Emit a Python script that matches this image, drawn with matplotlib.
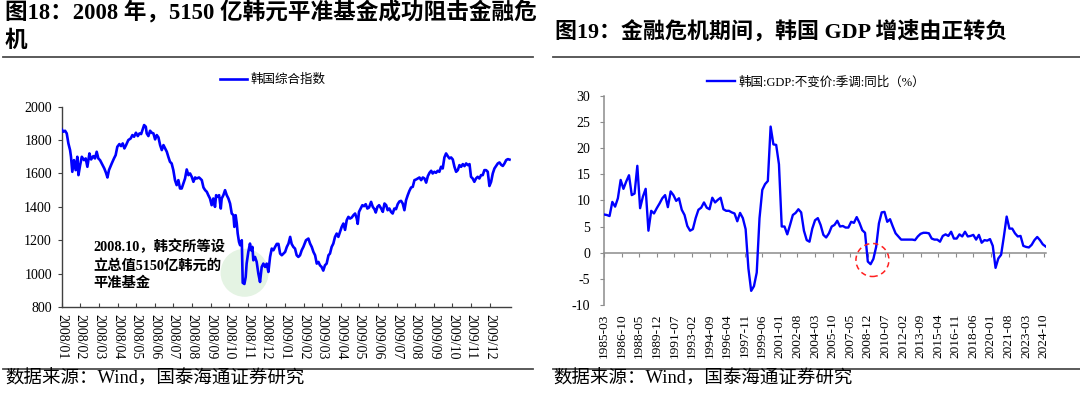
import numpy as np
import matplotlib
matplotlib.use('Agg')
import matplotlib.pyplot as plt
from matplotlib.patches import Circle
from matplotlib.transforms import ScaledTranslation
from matplotlib.lines import Line2D

FAM = ['Liberation Serif', 'Noto Sans CJK SC']
plt.rcParams['font.family'] = FAM
plt.rcParams['axes.unicode_minus'] = False

# ---------------- data ----------------
left_title_lines = ["图18：2008 年，5150 亿韩元平准基金成功阻击金融危", "机"]
right_title = "图19：金融危机期间，韩国 GDP 增速由正转负"
source_text = "数据来源：Wind，国泰海通证券研究"
kospi_name = "韩国综合指数"
gdp_name = "韩国:GDP:不变价:季调:同比（%）"
annotation = "2008.10，韩交所等设\n立总值5150亿韩元的\n平准基金"

# KOSPI: position in months since 2008/01, index level
kospi_month = [
    0.00, 0.09, 0.18, 0.27, 0.36, 0.45, 0.50, 0.57, 0.66, 0.75,
    0.84, 0.90, 0.99, 1.08, 1.20, 1.29, 1.38, 1.49, 1.58, 1.70,
    1.79, 1.88, 1.97, 2.06, 2.15, 2.29, 2.38, 2.46, 2.54, 2.69,
    2.81, 2.90, 2.99, 3.10, 3.19, 3.28, 3.37, 3.46, 3.58, 3.71,
    3.80, 3.89, 3.99, 4.09, 4.18, 4.27, 4.34, 4.43, 4.52, 4.57,
    4.66, 4.75, 4.84, 4.93, 5.02, 5.11, 5.20, 5.29, 5.38, 5.47,
    5.56, 5.65, 5.73, 5.82, 5.91, 6.00, 6.09, 6.18, 6.27, 6.36,
    6.45, 6.54, 6.63, 6.72, 6.81, 6.90, 6.99, 7.08, 7.17, 7.26,
    7.38,
    7.44, 7.53, 7.62, 7.71, 7.80, 7.88, 7.97, 8.06, 8.15, 8.24,
    8.30, 8.37, 8.46, 8.55, 8.60, 8.69, 8.78, 8.87, 8.96, 9.05,
    9.14, 9.23, 9.28, 9.35, 9.41, 9.46, 9.53, 9.59, 9.68, 9.73,
    9.82, 9.89, 9.94, 10.03, 10.12, 10.18, 10.25, 10.30, 10.39, 10.48,
    10.57, 10.66, 10.75, 10.84, 10.93, 11.02, 11.11, 11.20, 11.29, 11.38,
    11.47, 11.56, 11.65, 11.74, 11.83, 11.92, 12.01, 12.10, 12.19, 12.28,
    12.36, 12.45, 12.54, 12.63, 12.72, 12.81, 12.90, 12.99, 13.13, 13.26,
    13.35, 13.44, 13.53, 13.62, 13.71, 13.80, 13.88, 13.97, 14.06, 14.15,
    14.24, 14.34, 14.42, 14.51, 14.60, 14.69, 14.78, 14.87, 14.96, 15.05,
    15.14,
    15.23, 15.32, 15.41, 15.50, 15.59, 15.68, 15.77, 15.86, 15.91, 15.98,
    16.07, 16.16, 16.25, 16.34, 16.43, 16.52, 16.63, 16.72, 16.81, 16.88,
    16.97, 17.06, 17.17, 17.26, 17.35, 17.44, 17.52, 17.61, 17.70, 17.79,
    17.88, 17.97, 18.06, 18.15, 18.24, 18.33, 18.42, 18.51, 18.60, 18.69,
    18.78, 18.87, 18.96, 19.05, 19.14, 19.23, 19.32, 19.41, 19.50, 19.59,
    19.68, 19.77, 19.86, 19.94, 20.03, 20.12, 20.21, 20.30, 20.39, 20.48,
    20.57, 20.66, 20.75, 20.84, 20.93, 21.02, 21.11, 21.20, 21.29, 21.38,
    21.47, 21.56, 21.65, 21.74, 21.83, 21.92, 22.00, 22.09, 22.18, 22.27,
    22.36, 22.45, 22.54, 22.63, 22.72, 22.81, 22.90, 22.99, 23.08, 23.17,
    23.26, 23.35, 23.44, 23.53, 23.62, 23.71, 23.80, 23.89, 23.98, 24.07,
]
kospi_value = [
    1864, 1850, 1856, 1840, 1780, 1740, 1700, 1610, 1680, 1620,
    1700, 1590, 1650, 1700, 1680, 1690, 1640, 1720, 1684, 1704,
    1690, 1730, 1690, 1680, 1660, 1630, 1604, 1576, 1620, 1660,
    1690, 1710, 1760, 1776, 1764, 1780, 1750, 1770, 1800, 1810,
    1830, 1820, 1844, 1824, 1840, 1836, 1860, 1890, 1880, 1840,
    1824, 1856, 1844, 1840, 1804, 1830, 1816, 1770, 1740, 1770,
    1750, 1730, 1700, 1670, 1660, 1620, 1560, 1530, 1560, 1510,
    1510, 1540, 1570, 1624, 1590, 1600, 1580, 1550, 1576, 1570,
    1576,
    1570, 1560, 1516, 1500, 1490, 1470, 1450, 1410, 1450, 1400,
    1470, 1460, 1470, 1390, 1450, 1470, 1500, 1470, 1450, 1420,
    1360, 1350, 1280, 1350, 1300, 1240, 1190, 1170, 1200, 945,
    938, 980, 1060, 1130, 1180, 1140, 1160, 1080, 1100, 1070,
    1000, 950, 1040, 1060, 1040, 1060, 1010, 1100, 1150, 1140,
    1160, 1178, 1178, 1120, 1110, 1120, 1130, 1160, 1180, 1220,
    1178, 1160, 1150, 1110, 1100, 1110, 1140, 1160, 1200, 1210,
    1180, 1160, 1130, 1110, 1060, 1070, 1050, 1040, 1018, 1050,
    1060, 1110, 1120, 1160, 1180, 1220, 1240, 1220, 1250, 1280,
    1300,
    1262, 1320, 1340, 1330, 1336, 1350, 1360, 1330, 1298, 1370,
    1390, 1410, 1404, 1416, 1390, 1396, 1430, 1400, 1386, 1366,
    1400, 1410, 1390, 1370, 1420, 1410, 1380, 1390, 1370, 1360,
    1390, 1386, 1416, 1432, 1436, 1420, 1380, 1440, 1470, 1496,
    1516, 1520, 1560, 1564, 1570, 1576, 1560, 1576, 1570, 1545,
    1584, 1604, 1616, 1600, 1610, 1604, 1616, 1610, 1640, 1630,
    1696, 1720, 1704, 1690, 1696, 1684, 1640, 1610, 1620, 1650,
    1640, 1656, 1644, 1660, 1650, 1656, 1580, 1570, 1550, 1570,
    1580, 1570, 1590, 1590, 1620, 1620, 1610, 1525, 1550, 1600,
    1630, 1645, 1660, 1666, 1652, 1645, 1660, 1680, 1686, 1683,
]
kospi_tick_labels = ['2008/01', '2008/02', '2008/03', '2008/04', '2008/05', '2008/06',
                     '2008/07', '2008/08', '2008/09', '2008/10', '2008/11', '2008/12',
                     '2009/01', '2009/02', '2009/03', '2009/04', '2009/05', '2009/06',
                     '2009/07', '2009/08', '2009/09', '2009/10', '2009/11', '2009/12']

# Korea real GDP yoy (%), quarterly from 1985-03
gdp_yoy = [
    7.3, 7.2, 7.0, 9.7, 8.8, 10.4, 13.9, 12.2, 13.6, 14.8,
    11.0, 11.3, 16.6, 8.5, 10.7, 12.2, 4.2, 8.0, 7.5, 8.5,
    9.4, 10.4, 11.0, 8.7, 11.7, 11.0, 9.9, 10.4, 8.2, 7.2,
    5.1, 4.2, 4.5, 6.6, 8.2, 8.6, 9.6, 8.6, 8.3, 10.5,
    9.6, 10.1, 10.5, 8.3, 8.0, 8.0, 7.7, 7.5, 6.0, 7.6,
    6.6, 4.5, -3.0, -7.3, -6.4, -3.8, 6.6, 12.0, 13.1, 13.7,
    24.1, 20.7, 20.6, 16.9, 5.0, 5.0, 3.5, 5.3, 7.2, 7.6,
    8.3, 7.7, 4.2, 2.4, 2.1,
    4.6, 6.2, 6.6, 5.3, 3.4, 2.9, 3.7, 5.0, 5.3, 6.1,
    5.0, 5.1, 4.8, 4.8, 5.9, 5.7, 6.8, 5.7, 4.3, 3.8,
    -1.7, -2.2, -1.2, 1.1, 5.6, 7.7, 7.8, 5.9, 6.4, 5.0,
    3.7, 3.1, 2.5, 2.5, 2.5, 2.5, 2.5, 2.4, 3.1, 3.6,
    3.8, 3.8, 3.7, 2.7, 2.5, 2.5, 2.1, 3.2, 3.5, 3.2,
    4.0, 2.7, 2.7, 3.5, 3.1, 4.0, 3.1, 3.2, 3.4, 2.5,
    3.4, 1.9, 2.4, 2.3, 2.6, 1.3, -2.9, -1.1, -0.4, 3.1,
    6.9, 4.6, 4.6, 3.7, 3.1, 3.2, 1.3, 1.1, 1.0, 1.5,
    2.4, 3.0, 2.4, 1.6, 1.2,
]
gdp_tick_labels = ['1985-03', '1986-10', '1988-05', '1989-12', '1991-07', '1993-02',
                   '1994-09', '1996-04', '1997-11', '1999-06', '2001-01', '2002-08',
                   '2004-03', '2005-10', '2007-05', '2008-12', '2010-07', '2012-02',
                   '2013-09', '2015-04', '2016-11', '2018-06', '2020-01', '2021-08',
                   '2023-03', '2024-10']

# ---------------- figure ----------------
W, H = 1080, 396
fig = plt.figure(figsize=(W / 100, H / 100), dpi=100)
BLUE = '#0000FF'
TICK_FS = 10


def fx(px):
    return px / W


def fy(py):
    return 1 - py / H


def px_circle(ax, x, y, r_px, **kw):
    c = Circle((0, 0), r_px / fig.dpi,
               transform=fig.dpi_scale_trans + ScaledTranslation(x, y, ax.transData), **kw)
    ax.add_patch(c)


# ---- left chart ----
axL = fig.add_axes([fx(61.7), fy(307), fx(511 - 61.7), (307 - 106.7) / H])
px_circle(axL, 9.83, 1005, 24, facecolor='#e4f3e3', edgecolor='none', zorder=1)
axL.plot(kospi_month, kospi_value, color=BLUE, lw=1.9, label=kospi_name, zorder=3)
kospi_ticks = [(int(s[:4]) - 2008) * 12 + int(s[5:]) - 1 for s in kospi_tick_labels]
axL.set_xticks(kospi_ticks)
axL.set_xticklabels(kospi_tick_labels, rotation=270, fontsize=TICK_FS)
axL.set_yticks(np.arange(800, 2001, 200))
axL.tick_params(axis='y', labelsize=TICK_FS, direction='out', length=3, pad=4, color='#404040')
axL.tick_params(axis='x', direction='in', length=3, pad=5, color='#404040')
for s in ['top', 'right']:
    axL.spines[s].set_visible(False)
for s in ['left', 'bottom']:
    axL.spines[s].set_color('#404040')
    axL.spines[s].set_linewidth(1.0)
axL.set_xlim(0, 24.15)
axL.set_ylim(800, 2000)
axL.text(0.07, 0.335, annotation, transform=axL.transAxes, ha='left', va='top',
         fontsize=10.3, fontweight='bold', linespacing=1.4, zorder=4)
legL = axL.legend(loc='center', bbox_to_anchor=(0.47, 1.133), frameon=False,
                  fontsize=9, handlelength=2.2, handletextpad=0.3, borderaxespad=0)

# ---- right chart ----
GRAY = '#8c8c8c'
axR = fig.add_axes([fx(604), fy(305), fx(1046 - 604), (305 - 95.7) / H])
gdp_month = np.arange(len(gdp_yoy)) * 3
axR.plot(gdp_month, gdp_yoy, color=BLUE, lw=1.7, label=gdp_name, zorder=3)
axR.set_xlim(0, 477.5)
axR.set_ylim(-10, 30)
axR.set_yticks(np.arange(-10, 31, 5))
gdp_ticks = [(int(s[:4]) - 1985) * 12 + int(s[5:]) - 3 for s in gdp_tick_labels]
axR.set_xticks(gdp_ticks)
axR.spines['bottom'].set_position(('data', 0))
axR.tick_params(axis='x', labelbottom=False, direction='out', length=3, color=GRAY)
axR.tick_params(axis='y', labelsize=TICK_FS, direction='out', length=3, pad=7, color=GRAY)
for s in ['top', 'right']:
    axR.spines[s].set_visible(False)
for s in ['left', 'bottom']:
    axR.spines[s].set_color(GRAY)
    axR.spines[s].set_linewidth(1.1)
sec = axR.secondary_xaxis('bottom')
sec.set_xticks(gdp_ticks)
sec.set_xticklabels(gdp_tick_labels, rotation=90, fontsize=9.6)
sec.tick_params(length=0, pad=6)
sec.spines['bottom'].set_visible(False)
px_circle(axR, 290, -1.4, 16.5, facecolor='none', edgecolor='#ff2020',
          linestyle=(0, (3.5, 2.5)), lw=1.1, zorder=4)
axR.set_xlim(0, 477.5)
axR.set_ylim(-10, 30)
legR = axR.legend(loc='center', bbox_to_anchor=(0.48, 1.065), frameon=False,
                  fontsize=9, handlelength=2.2, handletextpad=0.3, borderaxespad=0)

# ---- titles, rules, sources ----
fig.text(fx(5), fy(13), left_title_lines[0], fontsize=16.3, fontweight='bold', va='center', ha='left')
fig.text(fx(5), fy(41), left_title_lines[1], fontsize=16.3, fontweight='bold', va='center', ha='left')
fig.text(fx(555), fy(31), right_title, fontsize=15.8, fontweight='bold', va='center', ha='left')
for x0, x1 in [(3, 533), (553, 1080)]:
    for yy in (57, 369):
        fig.add_artist(Line2D([fx(x0), fx(x1)], [fy(yy), fy(yy)], color='#4d4d4d', lw=1.3))
fig.text(fx(5), fy(379), source_text, fontsize=13.3, va='center', ha='left')
fig.text(fx(553), fy(379), source_text, fontsize=13.3, va='center', ha='left')

fig.savefig('out.png', dpi=100)
